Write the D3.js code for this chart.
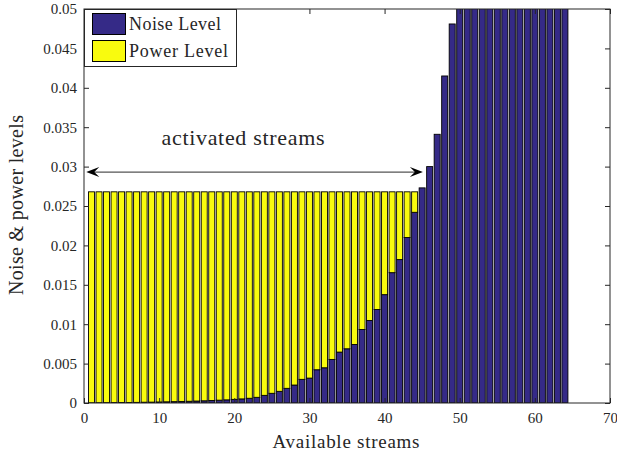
<!DOCTYPE html>
<html>
<head>
<meta charset="utf-8">
<script src="https://cdn.jsdelivr.net/npm/d3@7"></script>
<style>
  body { margin: 0; background: #fff; }
</style>
</head>
<body>
<div id="chart"></div>
<script>
// streams 1..64
const streams = d3.range(1, 65);

// noise level per stream (values above 0.05 are clipped)
const noiseLevel = [
  0.00002, 0.00003, 0.00004, 0.00005, 0.00006, 0.00007, 0.00008, 0.0001, 0.00011, 0.00013,
  0.00015, 0.00017, 0.0002, 0.00022, 0.00025, 0.00028, 0.00032, 0.00036, 0.0004, 0.00046,
  0.00052, 0.0006, 0.00072, 0.00097, 0.00123, 0.00148, 0.00186, 0.00228, 0.003, 0.00316,
  0.00422, 0.00447, 0.00553, 0.00646, 0.00688, 0.00743, 0.00933, 0.01047, 0.01186, 0.01375,
  0.01654, 0.0182, 0.021, 0.0242, 0.0273, 0.03, 0.0341, 0.0415, 0.0481, 0.056,
  0.062, 0.068, 0.075, 0.083, 0.09, 0.1, 0.11, 0.12, 0.135, 0.15,
  0.17, 0.19, 0.21, 0.24
];

// allocated power per stream (stacked on top of the noise)
const powerLevel = [
  0.02678, 0.02677, 0.02676, 0.02675, 0.02674, 0.02673, 0.02672, 0.0267, 0.02669, 0.02667,
  0.02665, 0.02663, 0.0266, 0.02658, 0.02655, 0.02652, 0.02648, 0.02644, 0.0264, 0.02634,
  0.02628, 0.0262, 0.02608, 0.02583, 0.02557, 0.02532, 0.02494, 0.02452, 0.0238, 0.02364,
  0.02258, 0.02233, 0.02127, 0.02034, 0.01992, 0.01937, 0.01747, 0.01633, 0.01494, 0.01305,
  0.01026, 0.0086, 0.0058, 0.0026, 0, 0, 0, 0, 0, 0,
  0, 0, 0, 0, 0, 0, 0, 0, 0, 0,
  0, 0, 0, 0
];

const xTicks = [0, 10, 20, 30, 40, 50, 60, 70];
const yTicks = [0, 0.005, 0.01, 0.015, 0.02, 0.025, 0.03, 0.035, 0.04, 0.045, 0.05];
const yTickLabels = ["0", "0.005", "0.01", "0.015", "0.02", "0.025", "0.03", "0.035", "0.04", "0.045", "0.05"];

// arrow marking the activated streams
const arrowSpan = [0.3, 45.1];
const arrowLevel = 0.0293;

const width = 617;
const height = 454;
const plot = { left: 84, right: 610, top: 9, bottom: 403 };
const serif = "Liberation Serif";
const axisColor = "#262626";

const svg = d3.select("#chart").append("svg")
    .attr("width", width)
    .attr("height", height);

const x = d3.scaleLinear().domain([0, 70]).range([plot.left, plot.right]);
const y = d3.scaleLinear().domain([0, 0.05]).range([plot.bottom, plot.top]);

// helper: serif text element
function label(sel, size) {
  return sel.attr("font-family", serif)
    .attr("font-size", size)
    .attr("fill", axisColor);
}

svg.append("defs").append("clipPath").attr("id", "clip")
  .append("rect")
    .attr("x", plot.left).attr("y", plot.top)
    .attr("width", plot.right - plot.left).attr("height", plot.bottom - plot.top);

const blue = "#352a87";
const yellow = "#f9fb0e";
const barW = x(0.8) - x(0);

const bars = svg.append("g").attr("clip-path", "url(#clip)");

// noise bars
bars.selectAll(".noise")
  .data(streams)
  .join("rect")
    .attr("x", (d) => x(d) - barW / 2)
    .attr("y", (d, i) => y(noiseLevel[i]))
    .attr("width", barW)
    .attr("height", (d, i) => y(0) - y(noiseLevel[i]))
    .attr("fill", blue)
    .attr("stroke", "#000")
    .attr("stroke-width", 0.9);

// power bars on top
bars.selectAll(".power")
  .data(streams.filter((d, i) => powerLevel[i] > 0))
  .join("rect")
    .attr("x", (d) => x(d) - barW / 2)
    .attr("y", (d) => y(noiseLevel[d - 1] + powerLevel[d - 1]))
    .attr("width", barW)
    .attr("height", (d) => y(noiseLevel[d - 1]) - y(noiseLevel[d - 1] + powerLevel[d - 1]))
    .attr("fill", yellow)
    .attr("stroke", "#000")
    .attr("stroke-width", 0.9);

// axes box
svg.append("rect")
    .attr("x", plot.left).attr("y", plot.top)
    .attr("width", plot.right - plot.left).attr("height", plot.bottom - plot.top)
    .attr("fill", "none")
    .attr("stroke", axisColor)
    .attr("stroke-width", 1);

function styleAxis(g) {
  g.attr("font-family", serif).attr("font-size", 15);
  g.select(".domain").remove();
  g.selectAll(".tick line").attr("stroke", axisColor);
  g.selectAll(".tick text").call(label, 15);
}

svg.append("g")
    .attr("transform", `translate(0,${plot.bottom})`)
    .call(d3.axisBottom(x).tickValues(xTicks).tickSizeInner(-5).tickSizeOuter(0).tickPadding(9))
    .call(styleAxis);

svg.append("g")
    .attr("transform", `translate(0,${plot.top})`)
    .call(d3.axisTop(x).tickValues(xTicks).tickSizeInner(-5).tickSizeOuter(0).tickFormat(""))
    .call(styleAxis);

svg.append("g")
    .attr("transform", `translate(${plot.left},0)`)
    .call(d3.axisLeft(y).tickValues(yTicks).tickFormat((d, i) => yTickLabels[i])
      .tickSizeInner(-5).tickSizeOuter(0).tickPadding(7))
    .call(styleAxis);

svg.append("g")
    .attr("transform", `translate(${plot.right},0)`)
    .call(d3.axisRight(y).tickValues(yTicks).tickSizeInner(-5).tickSizeOuter(0).tickFormat(""))
    .call(styleAxis);

// axis labels
svg.append("text")
    .call(label, 19)
    .attr("x", 346)
    .attr("y", 448)
    .attr("text-anchor", "middle")
    .attr("textLength", 147)
    .attr("lengthAdjust", "spacing")
    .text("Available streams");

svg.append("text")
    .call(label, 20)
    .attr("transform", `translate(23,205) rotate(-90)`)
    .attr("text-anchor", "middle")
    .attr("textLength", 180)
    .attr("lengthAdjust", "spacing")
    .text("Noise & power levels");

// double arrow + annotation
const ay = y(arrowLevel);
const ax0 = x(arrowSpan[0]);
const ax1 = x(arrowSpan[1]);
svg.append("line")
    .attr("x1", ax0 + 4).attr("x2", ax1 - 4)
    .attr("y1", ay).attr("y2", ay)
    .attr("stroke", "#555")
    .attr("stroke-width", 1.2);

function head(tipX, dir) {
  const p = d3.path();
  p.moveTo(tipX, ay);
  p.lineTo(tipX - dir * 13, ay - 5);
  p.lineTo(tipX - dir * 8, ay);
  p.lineTo(tipX - dir * 13, ay + 5);
  p.closePath();
  svg.append("path").attr("d", p.toString()).attr("fill", "#000");
}
head(ax0, -1);
head(ax1, 1);

svg.append("text")
    .call(label, 22)
    .attr("x", 243)
    .attr("y", 145)
    .attr("text-anchor", "middle")
    .attr("textLength", 163)
    .attr("lengthAdjust", "spacing")
    .text("activated streams");

// legend
const legend = svg.append("g");
legend.append("rect")
    .attr("x", plot.left + 0.5).attr("y", plot.top + 0.5)
    .attr("width", 152).attr("height", 57)
    .attr("fill", "#fff")
    .attr("stroke", axisColor)
    .attr("stroke-width", 1);

const legendItems = [
  { label: "Noise Level", color: blue, len: 92 },
  { label: "Power Level", color: yellow, len: 99 }
];
legendItems.forEach((item, i) => {
  const top = plot.top + 4 + i * 27;
  legend.append("rect")
      .attr("x", 92.5).attr("y", top + 0.5)
      .attr("width", 33).attr("height", 21)
      .attr("fill", item.color)
      .attr("stroke", "#000")
      .attr("stroke-width", 1);
  legend.append("text")
      .call(label, 18)
      .attr("x", 129)
      .attr("y", top + 17)
      .attr("textLength", item.len)
      .attr("lengthAdjust", "spacing")
      .text(item.label);
});
</script>
</body>
</html>
